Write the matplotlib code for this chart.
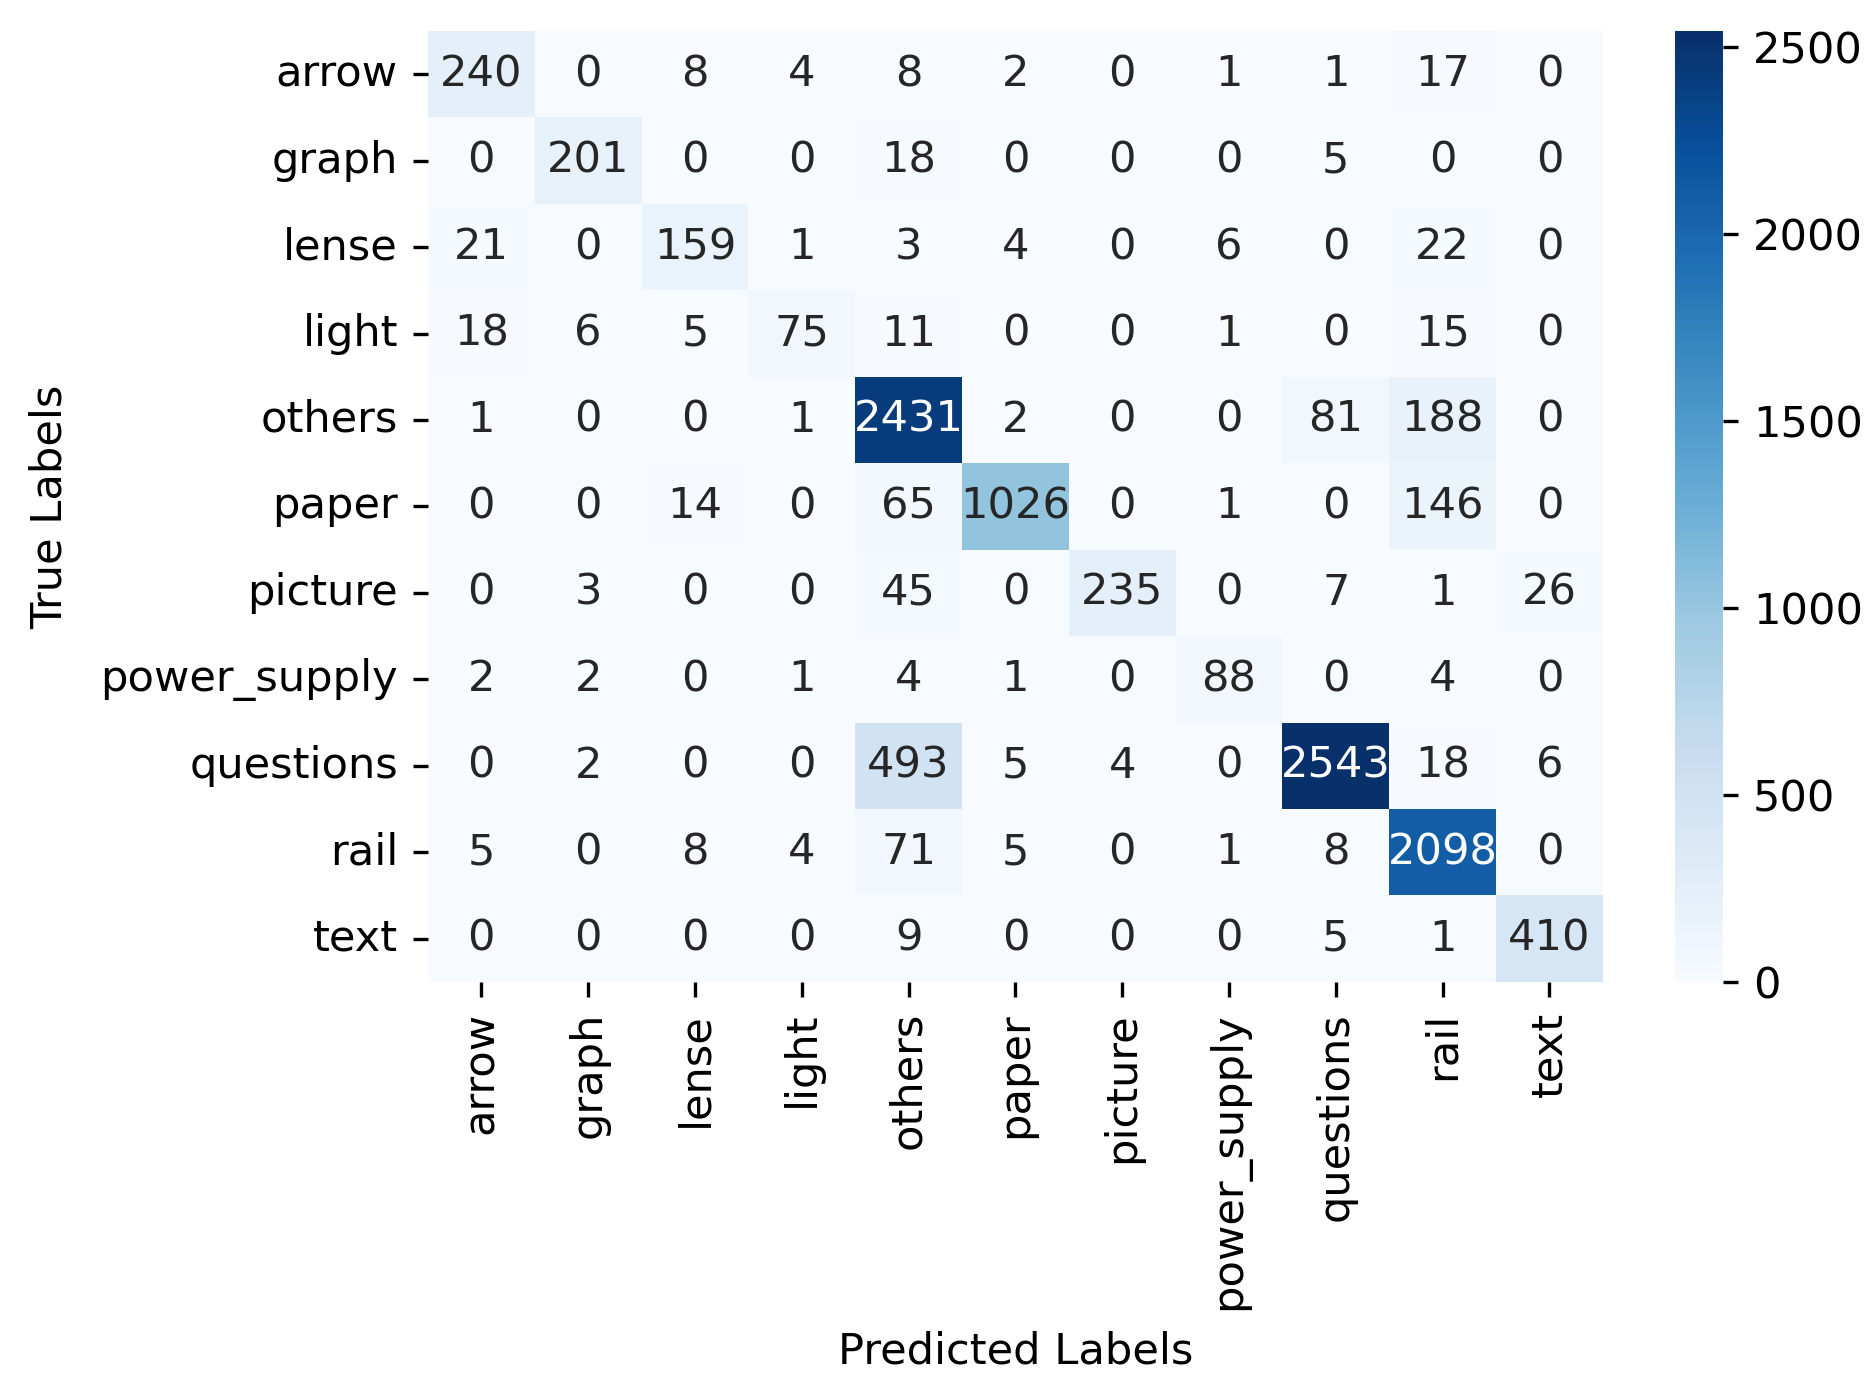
import numpy as np
import pandas as pd
import matplotlib
matplotlib.use("Agg")
import matplotlib.pyplot as plt
import seaborn as sns

# class names
labels = ['arrow', 'graph', 'lense', 'light', 'others', 'paper', 'picture',
          'power_supply', 'questions', 'rail', 'text']

# confusion matrix rows (true label)
arrow = [240, 0, 8, 4, 8, 2, 0, 1, 1, 17, 0]
graph = [0, 201, 0, 0, 18, 0, 0, 0, 5, 0, 0]
lense = [21, 0, 159, 1, 3, 4, 0, 6, 0, 22, 0]
light = [18, 6, 5, 75, 11, 0, 0, 1, 0, 15, 0]
others = [1, 0, 0, 1, 2431, 2, 0, 0, 81, 188, 0]
paper = [0, 0, 14, 0, 65, 1026, 0, 1, 0, 146, 0]
picture = [0, 3, 0, 0, 45, 0, 235, 0, 7, 1, 26]
power_supply = [2, 2, 0, 1, 4, 1, 0, 88, 0, 4, 0]
questions = [0, 2, 0, 0, 493, 5, 4, 0, 2543, 18, 6]
rail = [5, 0, 8, 4, 71, 5, 0, 1, 8, 2098, 0]
text = [0, 0, 0, 0, 9, 0, 0, 0, 5, 1, 410]

cm = pd.DataFrame([arrow, graph, lense, light, others, paper, picture,
                   power_supply, questions, rail, text],
                  index=labels, columns=labels)

fs = 10.4
plt.rcParams['font.size'] = fs
plt.rcParams['xtick.major.size'] = 3.6
plt.rcParams['ytick.major.size'] = 3.6
plt.rcParams['xtick.major.pad'] = 3.6
plt.rcParams['ytick.major.pad'] = 3.6

fig = plt.figure(figsize=(1876 / 300, 1394 / 300), dpi=300)
ax = fig.add_axes([0.2281, 0.2956, 0.6263, 0.6822])
cax = fig.add_axes([0.8929, 0.2956, 0.0256, 0.6822])

sns.heatmap(cm, annot=True, fmt='d', cmap='Blues', ax=ax, cbar_ax=cax,
            annot_kws={'fontsize': fs})

ax.set_xlabel('Predicted Labels', fontsize=fs, labelpad=5)
ax.set_ylabel('True Labels', fontsize=fs, labelpad=7)
ax.set_xticklabels(labels, rotation=90)
ax.set_yticklabels(labels, rotation=0)
cax.tick_params(labelsize=fs)

fig.savefig('out.png', dpi=300)
